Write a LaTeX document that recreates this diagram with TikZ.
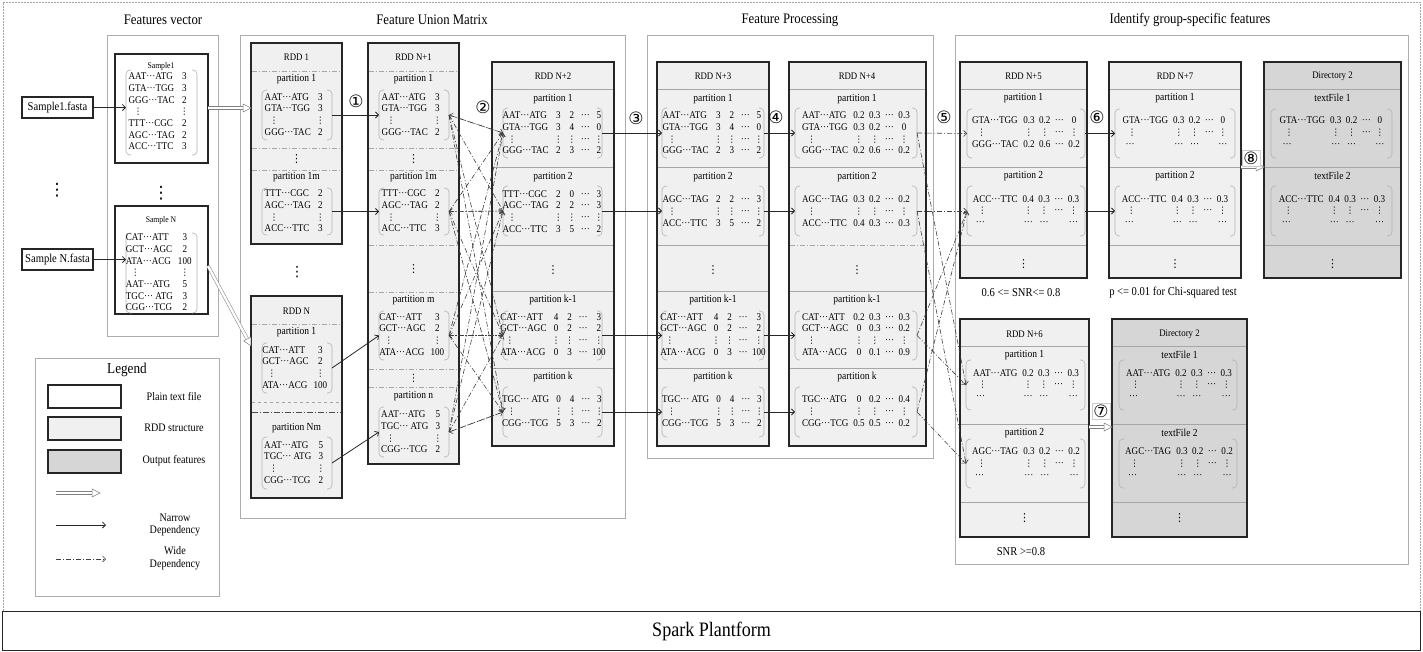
\documentclass[tikz,border=0pt]{standalone}
\usepackage{fontspec}
\setmainfont{Liberation Serif}[FakeStretch=0.88]
\newfontfamily\dv{DejaVu Sans}
\usetikzlibrary{arrows.meta,calc}
\newcommand\cd{···}
\newcommand\vd{{\dv\fontsize{9}{9}\selectfont ⋮}}
\newcommand\bvd[1]{{\dv\fontsize{#1}{#1}\selectfont ⋮}}
\newcommand\brk[5]{%
  \draw[brk] (#2+5,#4) -- (#2,#4) -- (#2,#5) -- (#2+5,#5);
  \draw[brk] (#3-5,#4) -- (#3,#4) -- (#3,#5) -- (#3-5,#5);
  \coordinate (#1l) at (#2,#4/2+#5/2);
  \coordinate (#1r) at (#3,#4/2+#5/2);}
\newcommand\mt[3]{\node[mtx] (#1) at (#2) {\begin{tabular}{@{}l@{\hspace{5pt}}c@{\hspace{4.5pt}}c@{\hspace{4.5pt}}c@{\hspace{4.5pt}}c@{}}#3\end{tabular}};}
\newcommand\rbox[6]{\node[#1, minimum width=#5-#3, minimum height=#6-#4] (#2) at (#3,#4) {};}
\newcommand\hsep[4][sep]{\draw[#1] (#2+0.7,#4) -- (#3-0.7,#4);}
\newcommand\hol[2]{%
  \coordinate (hc) at ($(#2)!8pt!(#1)$);
  \draw[holshaft] (#1) -- (hc);
  \draw[holtip] (#2) -- ($(hc)!4pt!90:(#2)$) -- ($(hc)!4pt!-90:(#2)$) -- cycle;}
\begin{document}
\begin{tikzpicture}[x=1pt,y=-1pt,
 panel/.style={draw=black!32, line width=0.8pt, anchor=north west, inner sep=0pt, outer sep=0pt},
 rdd/.style={draw=black!85, line width=1.2pt, fill=black!6, anchor=north west, inner sep=0pt, outer sep=0pt},
 outb/.style={rdd, fill=black!16},
 plainb/.style={rdd, fill=white},
 sep/.style={draw=black!35, line width=0.7pt},
 dsep/.style={sep, dash pattern=on 5pt off 2pt on 1pt off 2pt},
 brk/.style={draw=black!30, line width=0.6pt, rounded corners=4pt},
 mtx/.style={inner sep=0pt, font=\fontsize{10.3}{11.7}\selectfont},
 hdr/.style={inner sep=0pt, font=\fontsize{10}{11}\selectfont},
 plbl/.style={inner sep=0pt, font=\fontsize{10.8}{12}\selectfont},
 title/.style={inner sep=0pt, font=\fontsize{14.5}{16}\selectfont},
 note/.style={inner sep=0pt, font=\fontsize{12}{13}\selectfont},
 lgl/.style={inner sep=0pt, font=\fontsize{11.5}{12.5}\selectfont},
 circ/.style={inner sep=1pt, font=\dv\fontsize{17}{17}\selectfont},
 circb/.style={circ, draw=black!20, fill=white, line width=0.5pt, inner sep=1.5pt},
 narrow/.style={draw=black!85, line width=0.8pt, -{Straight Barb[length=3pt,width=6pt]}},
 wide/.style={draw=black!75, line width=0.6pt, dash pattern=on 5pt off 2pt on 1pt off 2pt, -{Straight Barb[length=3pt,width=6pt]}},
 holshaft/.style={draw=black!50, line width=0.5pt, double=white, double distance=2.4pt},
 holtip/.style={draw=black!50, line width=0.5pt, fill=white},
 dt/.style={inner sep=0pt}
]
\useasboundingbox (0,0) rectangle (1423,651);
\node[draw=black!35, line width=0.6pt, dash pattern=on 2pt off 1pt, anchor=north west, minimum width=1417, minimum height=609, inner sep=0pt] (frame) at (3,2) {};
\node[draw=black!85, line width=1.2pt, anchor=north west, minimum width=1418, minimum height=39, inner sep=0pt, font=\fontsize{20.5}{22}\selectfont] (spark) at (2,611) {Spark Plantform};

% titles
\node[title] (t1) at (163,20) {Features vector};
\node[title] (t2) at (432,20) {Feature Union Matrix};
\node[title] (t3) at (790,20) {Feature Processing};
\node[title] (t4) at (1190,20) {Identify group-specific features};

% panels
\node[panel, minimum width=111, minimum height=301] (pfv) at (107,35) {};
\node[panel, minimum width=385, minimum height=483] (pfu) at (240,35) {};
\node[panel, minimum width=286, minimum height=423] (pfp) at (647,35) {};
\node[panel, minimum width=453, minimum height=529] (pid) at (955,35) {};
\node[panel, minimum width=184, minimum height=238] (leg) at (35,358) {};

% fasta files
\node[plainb, minimum width=71, minimum height=21, font=\fontsize{12}{13}\selectfont] (f1) at (22,97) {Sample1.fasta};
\node[plainb, minimum width=71, minimum height=21, font=\fontsize{12}{13}\selectfont] (fN) at (22,249) {Sample N.fasta};
\node[dt] (d0) at (57,190) {\bvd{17}};

% feature vectors
\rbox{plainb}{s1}{115}{54}{208}{163}
\node[inner sep=0pt, font=\fontsize{8.7}{9}\selectfont] (s1t) at (161,66) {Sample1};
\brk{s1b}{126}{197}{70}{155}
\mt{s1m}{161,112.5}{AAT\cd ATG & 3\\ GTA\cd TGG & 3\\ GGG\cd TAC & 2\\ \hspace{5pt}\vd & \vd\\ TTT\cd CGC & 2\\ AGC\cd TAG & 2\\ ACC\cd TTC & 3}
\node[dt] (d1) at (161,193) {\bvd{17}};
\rbox{plainb}{sN}{115}{206}{208}{314}
\node[inner sep=0pt, font=\fontsize{8.7}{9}\selectfont] (sNt) at (161,220) {Sample N};
\brk{sNb}{126}{197}{233}{313}
\mt{sNm}{161,273.5}{CAT\cd ATT & 3\\ GCT\cd AGC & 2\\ ATA\cd ACG & 100\\ \hspace{5pt}\vd & \vd\\ AAT\cd ATG & 5\\ TGC\cd\ ATG & 3\\ CGG\cd TCG & 2}
\draw[narrow] (f1.east) -- (f1.east -| s1bl);
\draw[narrow] (fN.east) -- (fN.east -| sNbl);

% RDD 1
\rbox{rdd}{r1}{251}{43}{342}{244}
\node[hdr] (r1h) at (296.5,57) {RDD 1};
\hsep[dsep]{251}{342}{71}
\node[plbl] (r1p1) at (296.5,79) {partition 1};
\brk{r1a}{262}{332}{90}{140}
\mt{m1a}{297,115.5}{AAT\cd ATG & 3\\ GTA\cd TGG & 3\\ \hspace{5pt}\vd & \vd\\ GGG\cd TAC & 2}
\hsep[dsep]{251}{342}{148}
\node[dt] (r1d) at (296.5,159) {\bvd{11}};
\hsep[dsep]{251}{342}{170}
\node[plbl] (r1p2) at (296.5,177) {partition 1m};
\brk{r1b}{262}{332}{188}{235}
\mt{m1b}{297,212}{TTT\cd CGC & 2\\ AGC\cd TAG & 2\\ \hspace{5pt}\vd & \vd\\ ACC\cd TTC & 3}
\node[dt] (d2) at (297,272) {\bvd{14}};

% RDD N
\rbox{rdd}{rN}{251}{296}{342}{498}
\node[hdr] (rNh) at (296.5,311) {RDD N};
\hsep[dsep]{251}{342}{324}
\node[plbl] (rNp1) at (296.5,332) {partition 1};
\brk{rNa}{262}{332}{343}{393}
\mt{mNa}{297,368.5}{CAT\cd ATT & 3\\ GCT\cd AGC & 2\\ \hspace{5pt}\vd & \vd\\ ATA\cd ACG & 100}
\hsep[sep, dashed]{251}{342}{402}
\draw[draw=black!70, line width=0.9pt, dash pattern=on 6pt off 2pt on 1pt off 2pt] (251.7,412) -- (341.3,412);
\node[plbl] (rNp2) at (296.5,428) {partition Nm};
\brk{rNb}{262}{332}{437}{489}
\mt{mNb}{297,463.5}{AAT\cd ATG & 5\\ TGC\cd\ ATG & 3\\ \hspace{5pt}\vd & \vd\\ CGG\cd TCG & 2}

% RDD N+1
\rbox{rdd}{rN1}{368}{43}{459}{464}
\node[hdr] (n1h) at (413.5,57) {RDD N+1};
\hsep[dsep]{368}{459}{71}
\node[plbl] (n1p1) at (413.5,79) {partition 1};
\brk{n1a}{379}{449}{90}{140}
\mt{mn1a}{414,115.5}{AAT\cd ATG & 3\\ GTA\cd TGG & 3\\ \hspace{5pt}\vd & \vd\\ GGG\cd TAC & 2}
\hsep[dsep]{368}{459}{148}
\node[dt] (n1d1) at (413.5,159) {\bvd{11}};
\hsep[dsep]{368}{459}{170}
\node[plbl] (n1p2) at (413.5,177) {partition 1m};
\brk{n1b}{379}{449}{188}{235}
\mt{mn1b}{414,212}{TTT\cd CGC & 2\\ AGC\cd TAG & 2\\ \hspace{5pt}\vd & \vd\\ ACC\cd TTC & 3}
\hsep[dsep]{368}{459}{245}
\node[dt] (n1d2) at (413.5,269) {\bvd{11}};
\hsep[dsep]{368}{459}{292}
\node[plbl] (n1p3) at (413.5,300) {partition m};
\brk{n1c}{379}{449}{311}{360}
\mt{mn1c}{414,335.5}{CAT\cd ATT & 3\\ GCT\cd AGC & 2\\ \hspace{5pt}\vd & \vd\\ ATA\cd ACG & 100}
\hsep[dsep]{368}{459}{369}
\node[dt] (n1d3) at (413.5,378) {\bvd{10}};
\hsep[dsep]{368}{459}{387}
\node[plbl] (n1p4) at (413.5,396) {partition n};
\brk{n1d}{379}{449}{407}{457}
\mt{mn1d}{414,433}{AAT\cd ATG & 5\\ TGC\cd\ ATG & 3\\ \hspace{5pt}\vd & \vd\\ CGG\cd TCG & 2}

% RDD N+2
\rbox{rdd}{rN2}{492}{62}{614}{446}
\node[hdr] (n2h) at (553,76) {RDD N+2};
\hsep{492}{614}{89}
\node[plbl] (n2p1) at (553,99) {partition 1};
\brk{n2a}{503}{602}{108}{158}
\mt{mn2a}{553,134}{AAT\cd ATG & 3 & 2 & \cd & 5\\ GTA\cd TGG & 3 & 4 & \cd & 0\\ \hspace{5pt}\vd & \vd & \vd & \cd & \vd\\ GGG\cd TAC & 2 & 3 & \cd & 2}
\hsep{492}{614}{167}
\node[plbl] (n2p2) at (553,177) {partition 2};
\brk{n2b}{503}{602}{186}{236}
\mt{mn2b}{553,212.5}{TTT\cd CGC & 2 & 0 & \cd & 3\\ AGC\cd TAG & 2 & 2 & \cd & 3\\ \hspace{5pt}\vd & \vd & \vd & \cd & \vd\\ ACC\cd TTC & 3 & 5 & \cd & 2}
\hsep{492}{614}{245}
\node[dt] (n2d) at (553,270) {\bvd{11}};
\hsep{492}{614}{291}
\node[plbl] (n2p3) at (553,300) {partition k-1};
\brk{n2c}{503}{602}{311}{360}
\mt{mn2c}{553,335.5}{CAT\cd ATT & 4 & 2 & \cd & 3\\ GCT\cd AGC & 0 & 2 & \cd & 2\\ \hspace{5pt}\vd & \vd & \vd & \cd & \vd\\ ATA\cd ACG & 0 & 3 & \cd & 100}
\hsep{492}{614}{368}
\node[plbl] (n2p4) at (553,377) {partition k};
\brk{n2d}{503}{602}{387}{437}
\mt{mn2d}{553,412}{TGC\cd\ ATG & 0 & 4 & \cd & 3\\ \hspace{5pt}\vd & \vd & \vd & \cd & \vd\\ CGG\cd TCG & 5 & 3 & \cd & 2}

% RDD N+3
\rbox{rdd}{rN3}{657}{62}{769}{446}
\node[hdr] (n3h) at (713,76) {RDD N+3};
\hsep{657}{769}{89}
\node[plbl] (n3p1) at (713,99) {partition 1};
\brk{n3a}{662}{764}{108}{158}
\mt{mn3a}{713,134}{AAT\cd ATG & 3 & 2 & \cd & 5\\ GTA\cd TGG & 3 & 4 & \cd & 0\\ \hspace{5pt}\vd & \vd & \vd & \cd & \vd\\ GGG\cd TAC & 2 & 3 & \cd & 2}
\hsep{657}{769}{167}
\node[plbl] (n3p2) at (713,177) {partition 2};
\brk{n3b}{662}{764}{186}{236}
\mt{mn3b}{713,212}{AGC\cd TAG & 2 & 2 & \cd & 3\\ \hspace{5pt}\vd & \vd & \vd & \cd & \vd\\ ACC\cd TTC & 3 & 5 & \cd & 2}
\hsep{657}{769}{245}
\node[dt] (n3d) at (713,270) {\bvd{11}};
\hsep{657}{769}{291}
\node[plbl] (n3p3) at (713,300) {partition k-1};
\brk{n3c}{662}{764}{311}{360}
\mt{mn3c}{713,335.5}{CAT\cd ATT & 4 & 2 & \cd & 3\\ GCT\cd AGC & 0 & 2 & \cd & 2\\ \hspace{5pt}\vd & \vd & \vd & \cd & \vd\\ ATA\cd ACG & 0 & 3 & \cd & 100}
\hsep{657}{769}{368}
\node[plbl] (n3p4) at (713,377) {partition k};
\brk{n3d}{662}{764}{387}{437}
\mt{mn3d}{713,412}{TGC\cd\ ATG & 0 & 4 & \cd & 3\\ \hspace{5pt}\vd & \vd & \vd & \cd & \vd\\ CGG\cd TCG & 5 & 3 & \cd & 2}

% RDD N+4
\rbox{rdd}{rN4}{789}{62}{926}{446}
\node[hdr] (n4h) at (857,76) {RDD N+4};
\hsep{789}{926}{89}
\node[plbl] (n4p1) at (857,99) {partition 1};
\brk{n4a}{795}{917}{108}{158}
\mt{mn4a}{856,134}{AAT\cd ATG & 0.2 & 0.3 & \cd & 0.3\\ GTA\cd TGG & 0.3 & 0.2 & \cd & 0\\ \hspace{5pt}\vd & \vd & \vd & \cd & \vd\\ GGG\cd TAC & 0.2 & 0.6 & \cd & 0.2}
\hsep{789}{926}{167}
\node[plbl] (n4p2) at (857,177) {partition 2};
\brk{n4b}{795}{917}{186}{236}
\mt{mn4b}{856,212}{AGC\cd TAG & 0.3 & 0.2 & \cd & 0.2\\ \hspace{5pt}\vd & \vd & \vd & \cd & \vd\\ ACC\cd TTC & 0.4 & 0.3 & \cd & 0.3}
\hsep[dsep]{789}{926}{245}
\node[dt] (n4d) at (857,270) {\bvd{11}};
\hsep{789}{926}{291}
\node[plbl] (n4p3) at (857,300) {partition k-1};
\brk{n4c}{795}{917}{311}{360}
\mt{mn4c}{856,335.5}{CAT\cd ATT & 0.2 & 0.3 & \cd & 0.3\\ GCT\cd AGC & 0 & 0.3 & \cd & 0.2\\ \hspace{5pt}\vd & \vd & \vd & \cd & \vd\\ ATA\cd ACG & 0 & 0.1 & \cd & 0.9}
\hsep{789}{926}{368}
\node[plbl] (n4p4) at (857,377) {partition k};
\brk{n4d}{795}{917}{387}{437}
\mt{mn4d}{856,412}{TGC\cd ATG & 0 & 0.2 & \cd & 0.4\\ \hspace{5pt}\vd & \vd & \vd & \cd & \vd\\ CGG\cd TCG & 0.5 & 0.5 & \cd & 0.2}

% RDD N+5
\rbox{rdd}{rN5}{960}{62}{1087}{278}
\node[hdr] (n5h) at (1023.5,76) {RDD N+5};
\hsep{960}{1087}{89}
\node[plbl] (n5p1) at (1023.5,98) {partition 1};
\brk{n5a}{967}{1085}{109}{158}
\mt{mn5a}{1026,133}{GTA\cd TGG & 0.3 & 0.2 & \cd & 0\\ \hspace{5pt}\vd & \vd & \vd & \cd & \vd\\ GGG\cd TAC & 0.2 & 0.6 & \cd & 0.2}
\hsep{960}{1087}{167}
\node[plbl] (n5p2) at (1023.5,176) {partition 2};
\brk{n5b}{967}{1085}{186}{236}
\mt{mn5b}{1026,211.5}{ACC\cd TTC & 0.4 & 0.3 & \cd & 0.3\\ \hspace{5pt}\vd & \vd & \vd & \cd & \vd\\ \hspace{3pt}\cd & \cd & \cd & & \cd}
\hsep{960}{1087}{245}
\node[dt] (n5d) at (1023.5,264) {\bvd{11}};
\node[note] (snr1) at (1021,293) {0.6 <= SNR<= 0.8};

% RDD N+7
\rbox{rdd}{rN7}{1109}{62}{1241}{278}
\node[hdr] (n7h) at (1175,76) {RDD N+7};
\hsep{1109}{1241}{89}
\node[plbl] (n7p1) at (1175,98) {partition 1};
\brk{n7a}{1115}{1235}{109}{158}
\mt{mn7a}{1175,133}{GTA\cd TGG & 0.3 & 0.2 & \cd & 0\\ \hspace{5pt}\vd & \vd & \vd & \cd & \vd\\ \hspace{3pt}\cd & \cd & \cd & & \cd}
\hsep{1109}{1241}{167}
\node[plbl] (n7p2) at (1175,176) {partition 2};
\brk{n7b}{1115}{1235}{186}{236}
\mt{mn7b}{1175,211.5}{ACC\cd TTC & 0.4 & 0.3 & \cd & 0.3\\ \hspace{5pt}\vd & \vd & \vd & \cd & \vd\\ \hspace{3pt}\cd & \cd & \cd & & \cd}
\hsep{1109}{1241}{245}
\node[dt] (n7d) at (1175,264) {\bvd{11}};
\node[note] (chi) at (1173,293) {p <= 0.01 for Chi-squared test};

% Directory 2 (top)
\rbox{outb}{dA}{1264}{62}{1401}{278}
\node[hdr] (dAh) at (1332.5,76) {Directory 2};
\hsep{1264}{1401}{89}
\node[plbl] (dAp1) at (1332.5,98) {textFile 1};
\brk{dAa}{1271}{1392}{109}{158}
\mt{mdAa}{1332,133}{GTA\cd TGG & 0.3 & 0.2 & \cd & 0\\ \hspace{5pt}\vd & \vd & \vd & \cd & \vd\\ \hspace{3pt}\cd & \cd & \cd & & \cd}
\hsep{1264}{1401}{167}
\node[plbl] (dAp2) at (1332.5,176) {textFile 2};
\brk{dAb}{1271}{1392}{186}{236}
\mt{mdAb}{1332,211.5}{ACC\cd TTC & 0.4 & 0.3 & \cd & 0.3\\ \hspace{5pt}\vd & \vd & \vd & \cd & \vd\\ \hspace{3pt}\cd & \cd & \cd & & \cd}
\hsep{1264}{1401}{245}
\node[dt] (dAd) at (1332.5,264) {\bvd{11}};

% RDD N+6
\rbox{rdd}{rN6}{960}{319}{1089}{537}
\node[hdr] (n6h) at (1024.5,334) {RDD N+6};
\hsep{960}{1089}{346}
\node[plbl] (n6p1) at (1024.5,355) {partition 1};
\brk{n6a}{966}{1085}{360}{410}
\mt{mn6a}{1026,385.5}{AAT\cd ATG & 0.2 & 0.3 & \cd & 0.3\\ \hspace{5pt}\vd & \vd & \vd & \cd & \vd\\ \hspace{3pt}\cd & \cd & \cd & & \cd}
\hsep{960}{1089}{424}
\node[plbl] (n6p2) at (1024.5,433) {partition 2};
\brk{n6b}{966}{1085}{439}{488}
\mt{mn6b}{1026,464}{AGC\cd TAG & 0.3 & 0.2 & \cd & 0.2\\ \hspace{5pt}\vd & \vd & \vd & \cd & \vd\\ \hspace{3pt}\cd & \cd & \cd & & \cd}
\hsep{960}{1089}{502}
\node[dt] (n6d) at (1024.5,518) {\bvd{11}};
\node[note] (snr2) at (1021,552) {SNR >=0.8};

% Directory 2 (bottom)
\rbox{outb}{dB}{1112}{319}{1247}{537}
\node[hdr] (dBh) at (1179.5,334) {Directory 2};
\hsep{1112}{1247}{346}
\node[plbl] (dBp1) at (1179.5,355) {textFile 1};
\brk{dBa}{1119}{1237}{360}{410}
\mt{mdBa}{1179,385.5}{AAT\cd ATG & 0.2 & 0.3 & \cd & 0.3\\ \hspace{5pt}\vd & \vd & \vd & \cd & \vd\\ \hspace{3pt}\cd & \cd & \cd & & \cd}
\hsep{1112}{1247}{424}
\node[plbl] (dBp2) at (1179.5,433) {textFile 2};
\brk{dBb}{1119}{1237}{439}{488}
\mt{mdBb}{1179,464}{AGC\cd TAG & 0.3 & 0.2 & \cd & 0.2\\ \hspace{5pt}\vd & \vd & \vd & \cd & \vd\\ \hspace{3pt}\cd & \cd & \cd & & \cd}
\hsep{1112}{1247}{502}
\node[dt] (dBd) at (1179.5,518) {\bvd{11}};

% Legend
\node[inner sep=0pt, font=\fontsize{15}{16}\selectfont] (legt) at (127,370) {Legend};
\rbox{plainb}{lg1}{48}{385}{121}{408}
\rbox{rdd}{lg2}{48}{417}{121}{440}
\rbox{outb}{lg3}{48}{450}{121}{473}
\node[lgl] (lg1t) at (174,396) {Plain text file};
\node[lgl] (lg2t) at (174,428) {RDD structure};
\node[lgl] (lg3t) at (174,461) {Output features};
\coordinate (la1) at (56,493); \coordinate (la2) at (100,493);
\hol{la1}{la2}
\coordinate (lb1) at (56,525); \coordinate (lb2) at (106,525);
\draw[narrow] (lb1) -- (lb2);
\node[lgl, align=center] (lbt) at (175,525) {Narrow\\Dependency};
\coordinate (lc1) at (56,559); \coordinate (lc2) at (106,559);
\draw[wide] (lc1) -- (lc2);
\node[lgl, align=center] (lct) at (175,558) {Wide\\Dependency};

% hollow arrows
\coordinate (h1a) at (s1.east |- 0,108);
\coordinate (h1b) at (r1.west |- 0,108);
\hol{h1a}{h1b}
\coordinate (hNa) at (208,266);
\coordinate (hNb) at (251,346);
\hol{hNa}{hNb}
\coordinate (h8a) at (rN7.east |- 0,167);
\coordinate (h8b) at (dA.west |- 0,167);
\hol{h8a}{h8b}
\coordinate (h7a) at (rN6.east |- 0,427);
\coordinate (h7b) at (dB.west |- 0,427);
\hol{h7a}{h7b}

% narrow dependencies
\draw[narrow] (r1ar) -- (n1al);
\draw[narrow] (r1br) -- (n1bl);
\draw[narrow] (rNar) -- (n1cl);
\draw[narrow] (rNbr) -- (n1dl);
\foreach \k in {a,b,c,d}{
  \draw[narrow] (n2\k r) -- (n3\k l);
  \draw[narrow] (n3\k r) -- (n4\k l);
}
\draw[narrow] (n5ar) -- (n7al);
\draw[narrow] (n5br) -- (n7bl);

% wide dependencies (shuffle)
\foreach \i in {a,b,c,d}{\foreach \j in {a,b,c,d}{\draw[wide] (n1\i r) -- (n2\j l);}}
\foreach \i in {a,b,c,d}{\draw[wide] (n2\i l) -- (n1\i r);}
\draw[wide] (n4ar) -- (n5al);
\draw[wide] (n4br) -- (n5bl);
\draw[wide] (n4cr) -- (n5bl);
\draw[wide] (n4dr) -- (n5bl);
\draw[wide] (n4ar) -- (n6al);
\draw[wide] (n4cr) -- (n6al);
\draw[wide] (n4br) -- (n6bl);
\draw[wide] (n4dr) -- (n6bl);

% step numbers
\node[circ] (c1) at (356,101) {①};
\node[circ] (c2) at (483,107) {②};
\node[circ] (c3) at (636,118) {③};
\node[circ] (c4) at (776,117) {④};
\node[circ] (c5) at (944,117) {⑤};
\node[circ] (c6) at (1097,117) {⑥};
\node[circb] (c7) at (1101,411) {⑦};
\node[circb] (c8) at (1251,158) {⑧};
\end{tikzpicture}
\end{document}
